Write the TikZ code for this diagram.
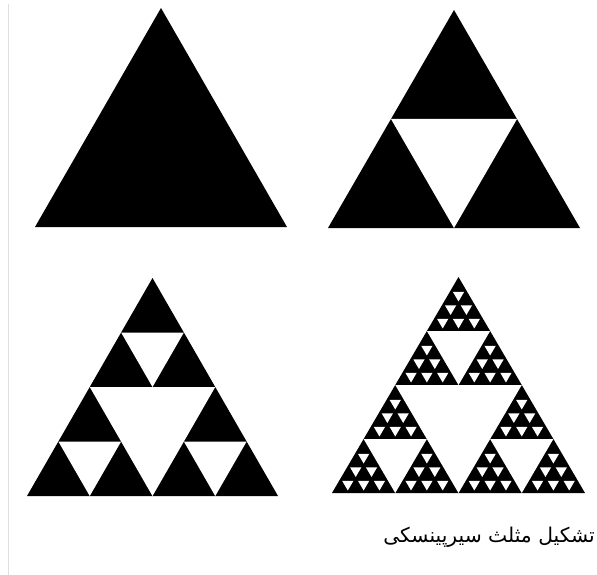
\documentclass[tikz,border=0pt]{standalone}
\usepackage{fontspec}
\newfontfamily\persischfont[Script=Arabic]{DejaVu Sans}
\TeXXeTstate=1
\usetikzlibrary{calc}

% Faktor fuer die kleinsten Loecher
\newcommand{\lochskala}{0.72}
% Dreieck: Basis links (#1,#2), Breite #3, Hoehe #4
\newcommand{\dreieck}[4]{\fill[dreieck] (#1,#2) -- ++(#3,0) -- ++({-#3/2},{-#4}) -- cycle;}
% mittleres Loch eines Dreiecks
\newcommand{\loch}[4]{\fill[loch] ({#1+#3/4},{#2-#4/2}) -- ++({#3/2},0) -- ++({-#3/4},{#4/2}) -- cycle;}
% kleines Loch in Zeile #5, Nummer #6
\newcommand{\kleinloch}[6]{%
  \pgfmathsetmacro{\zx}{#1+#3/2-#5*#3/8+(#6-1)*#3/4+#3/8}%
  \pgfmathsetmacro{\zy}{#2-#4+#5*#4/4+#4/12}%
  \fill[loch] ({\zx-\lochskala*#3/8},{\zy-\lochskala*#4/12}) -- ++({\lochskala*#3/4},0) -- ++({-\lochskala*#3/8},{\lochskala*#4/4}) -- cycle;}

\begin{document}
\begin{tikzpicture}[
                x=1pt, y=-1pt,
                dreieck/.style={black},
                loch/.style={white},
                rahmen/.style={draw=gray!25, line width=1pt},
                beschriftung/.style={font=\persischfont\fontsize{20.3}{24}\selectfont, inner sep=0pt}
            ]
            \useasboundingbox (0,0) rectangle (597,575);
            \fill[white] (0,0) rectangle (597,575);
            \draw[rahmen] (8,4) -- (8,575);

            % Stufe 0
            \dreieck{35}{227}{252}{219}

            % Stufe 1
            \dreieck{328}{228}{252}{218}
            \loch{328}{228}{252}{218}

            % Stufe 2
            \dreieck{27}{496}{251}{218}
            \loch{27}{496}{251}{218}
            \foreach \a/\b in {0/0, 0.5/0, 0.25/-0.5}
                \loch{27+\a*251}{496+\b*218}{125.5}{109};

            % Stufe 3
            \dreieck{332}{493}{253}{216}
            \loch{332}{493}{253}{216}
            \foreach \a/\b in {0/0, 0.5/0, 0.25/-0.5} {
                \loch{332+\a*253}{493+\b*216}{126.5}{108}
                \foreach \c/\e in {0/0, 0.25/0, 0.125/-0.25}
                    \foreach \r in {1,2,3}
                        \foreach \k in {1,...,\r}
                            \kleinloch{332+(\a+\c)*253}{493+(\b+\e)*216}{63.25}{54}{\r}{\k};
            }

            % Text
            \node[beschriftung, anchor=base east] (titel) at (595,542) {\beginR تشکیل مثلث سیرپینسکی\endR};
        \end{tikzpicture}
\end{document}
